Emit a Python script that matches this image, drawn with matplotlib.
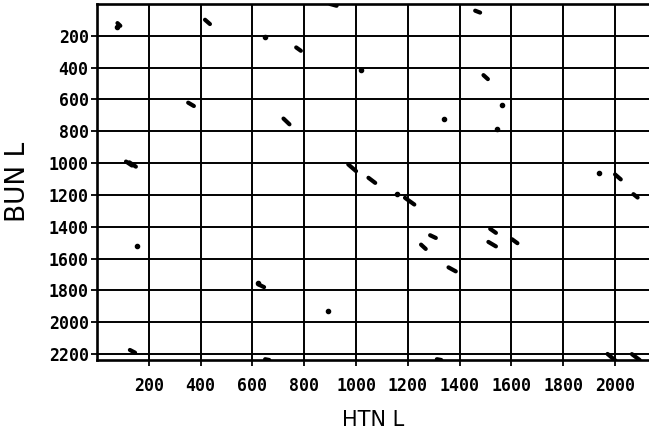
import matplotlib
matplotlib.use("Agg")
import matplotlib.pyplot as plt

# dot plot marks (HTN L position, BUN L position)
seg_x0 = [79, 417, 352, 112, 125, 900, 769, 720, 970, 1460, 1492, 1048, 2000, 127, 623,
          1189, 1286, 1251, 1357, 1518, 1511, 2071, 1602, 1971, 2065, 1312, 649]
seg_x1 = [90, 436, 374, 135, 150, 925, 787, 743, 1000, 1479, 1509, 1074, 2022, 147, 645,
          1225, 1308, 1269, 1385, 1540, 1540, 2087, 1623, 2001, 2095, 1329, 665]
seg_y0 = [120, 99, 620, 990, 995, 0, 273, 720, 1008, 42, 447, 1092, 1071, 2174, 1762,
          1218, 1453, 1512, 1655, 1413, 1495, 1195, 1478, 2199, 2200, 2232, 2232]
seg_y1 = [137, 126, 641, 1015, 1022, 11, 294, 756, 1050, 54, 472, 1124, 1102, 2191, 1779,
          1260, 1470, 1539, 1680, 1438, 1523, 1216, 1503, 2240, 2237, 2237, 2237]

dot_x = [77, 649, 1020, 1563, 1338, 1544, 1939, 153, 893, 1157, 623]
dot_y = [143, 210, 414, 636, 720, 788, 1065, 1519, 1928, 1195, 1755]

xticks = [200, 400, 600, 800, 1000, 1200, 1400, 1600, 1800, 2000]
yticks = [200, 400, 600, 800, 1000, 1200, 1400, 1600, 1800, 2000, 2200]

fig = plt.figure(figsize=(6.49, 4.40), dpi=100)
ax = fig.add_axes([97 / 649, 1 - 360 / 440, 1 - 97 / 649, (360 - 4) / 440])

for x0, x1, y0, y1 in zip(seg_x0, seg_x1, seg_y0, seg_y1):
    ax.plot([x0, x1], [y0, y1], color="black", linewidth=3, solid_capstyle="round", zorder=3)
ax.scatter(dot_x, dot_y, s=9, color="black", zorder=3)

ax.set_xlim(0, 2131)
ax.set_ylim(2237, 0)
ax.set_xticks(xticks)
ax.set_yticks(yticks)
ax.grid(True, color="black", linewidth=1.4)
ax.set_axisbelow(True)

for side in ["left", "top", "bottom"]:
    ax.spines[side].set_linewidth(1.9)
ax.spines["right"].set_visible(False)

ax.tick_params(axis="both", direction="out", length=4, width=1.3, color="black")
ax.tick_params(axis="x", pad=8)
ax.tick_params(axis="y", pad=2)
for lab in ax.get_xticklabels() + ax.get_yticklabels():
    lab.set_fontfamily("DejaVu Sans Mono")
    lab.set_fontweight("bold")
    lab.set_fontsize(12)

ax.set_xlabel("HTN L", fontsize=15, fontfamily="DejaVu Sans", labelpad=11)
ax.set_ylabel("BUN L", fontsize=19, fontfamily="DejaVu Sans", labelpad=13)

fig.savefig("out.png", dpi=100)
